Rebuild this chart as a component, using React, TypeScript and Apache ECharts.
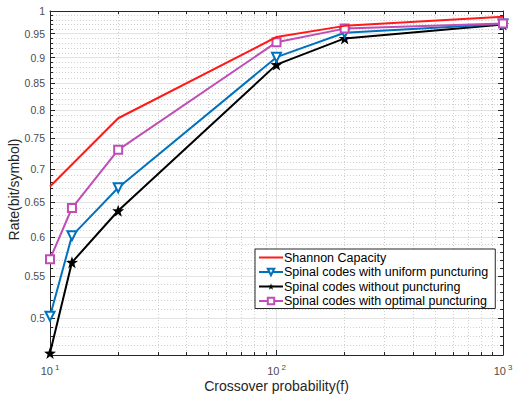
import React, { useEffect, useRef } from "react";
import * as echarts from "echarts";

const xValues = [10, 12.5, 20, 100, 200, 1000];
const shannonX = [10, 20, 100, 200, 1000];
const shannon = [0.673, 0.785, 0.943, 0.967, 0.987];
const uniform = [0.502, 0.602, 0.671, 0.901, 0.952, 0.971];
const without = [0.462, 0.567, 0.637, 0.886, 0.94, 0.97];
const optimal = [0.571, 0.641, 0.731, 0.932, 0.961, 0.972];

const seriesNames = [
  "Shannon Capacity",
  "Spinal codes with uniform puncturing",
  "Spinal codes without puncturing",
  "Spinal codes with optimal puncturing",
];

const xMajor = [10, 100, 1000];
const xMinor = [20, 30, 40, 50, 60, 70, 80, 90, 200, 300, 400, 500, 600, 700, 800, 900];
const yMajor = [0.5, 0.55, 0.6, 0.65, 0.7, 0.75, 0.8, 0.85, 0.9, 0.95, 1];
const yMinor = [
  0.47, 0.48, 0.49, 0.51, 0.52, 0.53, 0.54, 0.56, 0.57, 0.58, 0.59, 0.61, 0.62, 0.63, 0.64,
  0.66, 0.67, 0.68, 0.69, 0.71, 0.72, 0.73, 0.74, 0.76, 0.77, 0.78, 0.79, 0.81, 0.82, 0.83,
  0.84, 0.86, 0.87, 0.88, 0.89, 0.91, 0.92, 0.93, 0.94, 0.96, 0.97, 0.98, 0.99,
];

const X_MIN = 10;
const X_MAX = 1000;
const Y_MIN = 0.46;
const Y_MAX = 1;

const STAR =
  "path://M0,-10 L2.35,-3.24 L9.51,-3.09 L3.8,1.24 L5.88,8.09 L0,4 L-5.88,8.09 L-3.8,1.24 L-9.51,-3.09 L-2.35,-3.24 Z";

const FONT = "'Liberation Sans', Arial, Helvetica, sans-serif";
const AXIS_COLOR = "#262626";

export default function App() {
  const ref = useRef<HTMLDivElement>(null);

  useEffect(() => {
    if (!ref.current) return;
    const chart = echarts.init(ref.current, undefined, { renderer: "svg" });

    const baseX = (extra: any) => ({
      type: "log",
      logBase: 10,
      min: X_MIN,
      max: X_MAX,
      ...extra,
    });
    const baseY = (extra: any) => ({
      type: "log",
      logBase: 10,
      min: Y_MIN,
      max: Y_MAX,
      ...extra,
    });

    chart.setOption({
      animation: false,
      backgroundColor: "#ffffff",
      textStyle: { fontFamily: FONT },
      grid: {
        left: 50,
        right: 10,
        top: 11,
        bottom: 46,
        containLabel: false,
        outerBoundsMode: "none",
      },
      legend: {
        orient: "vertical",
        left: 255,
        top: 249,
        padding: [2, 7, 1, 3],
        itemGap: 1.5,
        itemWidth: 24,
        itemHeight: 8,
        backgroundColor: "#ffffff",
        borderColor: AXIS_COLOR,
        borderWidth: 1,
        borderRadius: 0,
        textStyle: { fontFamily: FONT, fontSize: 12.5, color: "#000", padding: [0, 0, 0, -4] },
        data: [
          { name: seriesNames[0], itemStyle: { opacity: 0 } },
          seriesNames[1],
          seriesNames[2],
          seriesNames[3],
        ],
      },
      xAxis: [
        baseX({
          position: "bottom",
          axisLine: { show: true, lineStyle: { color: AXIS_COLOR, width: 1 } },
          axisTick: { show: true, inside: true, length: 5, lineStyle: { color: AXIS_COLOR }, customValues: xMajor },
          axisLabel: {
            show: true,
            customValues: xMajor,
            color: "#4d4d4d",
            fontSize: 11,
            margin: 8,
            formatter: (v: number) => "10{s|" + Math.round(Math.log10(v)) + "}",
            rich: { s: { fontSize: 8, verticalAlign: "top", padding: [0, 0, 8, 2], color: "#4d4d4d" } },
          },
          splitLine: { show: true, lineStyle: { color: "#e3e3e3", width: 1 } },
          name: "Crossover probability(f)",
          nameLocation: "middle",
          nameGap: 24,
          nameMoveOverlap: false,
          nameTextStyle: { fontSize: 14, color: AXIS_COLOR, fontFamily: FONT },
        }),
        baseX({
          position: "bottom",
          axisLine: { show: false },
          axisTick: { show: true, inside: true, length: 3, lineStyle: { color: AXIS_COLOR }, customValues: xMinor },
          axisLabel: { show: false, customValues: xMinor },
          splitLine: { show: true, lineStyle: { color: "#d0d0d0", width: 1, type: [1, 2] } },
        }),
        baseX({
          position: "top",
          axisLine: { show: true, lineStyle: { color: AXIS_COLOR, width: 1 } },
          axisTick: { show: true, inside: true, length: 5, lineStyle: { color: AXIS_COLOR }, customValues: xMajor },
          axisLabel: { show: false, customValues: xMajor },
          splitLine: { show: false },
        }),
        baseX({
          position: "top",
          axisLine: { show: false },
          axisTick: { show: true, inside: true, length: 3, lineStyle: { color: AXIS_COLOR }, customValues: xMinor },
          axisLabel: { show: false, customValues: xMinor },
          splitLine: { show: false },
        }),
      ],
      yAxis: [
        baseY({
          position: "left",
          axisLine: { show: true, lineStyle: { color: AXIS_COLOR, width: 1 } },
          axisTick: { show: true, inside: true, length: 5, lineStyle: { color: AXIS_COLOR }, customValues: yMajor },
          axisLabel: {
            show: true,
            customValues: yMajor,
            color: "#4d4d4d",
            fontSize: 10.5,
            margin: 5,
            formatter: (v: number) => String(Math.round(v * 100) / 100),
          },
          splitLine: { show: true, lineStyle: { color: "#e3e3e3", width: 1 } },
          name: "Rate(bit/symbol)",
          nameLocation: "middle",
          nameGap: 29,
          nameMoveOverlap: false,
          nameTextStyle: { fontSize: 14, color: AXIS_COLOR, fontFamily: FONT, padding: [0, 13, 0, 0] },
        }),
        baseY({
          position: "left",
          axisLine: { show: false },
          axisTick: { show: true, inside: true, length: 3, lineStyle: { color: AXIS_COLOR }, customValues: yMinor },
          axisLabel: { show: false, customValues: yMinor },
          splitLine: { show: true, lineStyle: { color: "#d0d0d0", width: 1, type: [1, 2] } },
        }),
        baseY({
          position: "right",
          axisLine: { show: true, lineStyle: { color: AXIS_COLOR, width: 1 } },
          axisTick: { show: true, inside: true, length: 5, lineStyle: { color: AXIS_COLOR }, customValues: yMajor },
          axisLabel: { show: false, customValues: yMajor },
          splitLine: { show: false },
        }),
        baseY({
          position: "right",
          axisLine: { show: false },
          axisTick: { show: true, inside: true, length: 3, lineStyle: { color: AXIS_COLOR }, customValues: yMinor },
          axisLabel: { show: false, customValues: yMinor },
          splitLine: { show: false },
        }),
      ],
      series: [
        {
          name: seriesNames[0],
          type: "line",
          data: shannonX.map((x, i) => [x, shannon[i]]),
          showSymbol: false,
          symbol: "none",
          lineStyle: { color: "#ff1a1a", width: 2 },
          itemStyle: { color: "#ff1a1a" },
          z: 5,
        },
        {
          name: seriesNames[1],
          type: "line",
          data: xValues.map((x, i) => [x, uniform[i]]),
          symbol: "emptyTriangle",
          symbolRotate: 180,
          symbolSize: 9,
          lineStyle: { color: "#0072BD", width: 2 },
          itemStyle: { color: "#0072BD", borderWidth: 1.5 },
          z: 4,
        },
        {
          name: seriesNames[2],
          type: "line",
          data: xValues.map((x, i) => [x, without[i]]),
          symbol: STAR,
          symbolSize: 12,
          lineStyle: { color: "#000000", width: 2 },
          itemStyle: { color: "#000000" },
          z: 3,
        },
        {
          name: seriesNames[3],
          type: "line",
          data: xValues.map((x, i) => [x, optimal[i]]),
          symbol: "emptyRect",
          symbolSize: 8,
          lineStyle: { color: "#C04DB5", width: 2 },
          itemStyle: { color: "#C04DB5", borderWidth: 1.5 },
          z: 4,
        },
      ],
    });

    return () => chart.dispose();
  }, []);

  return <div ref={ref} style={{ width: 513, height: 401, position: "absolute", left: 0, top: 0 }} />;
}
